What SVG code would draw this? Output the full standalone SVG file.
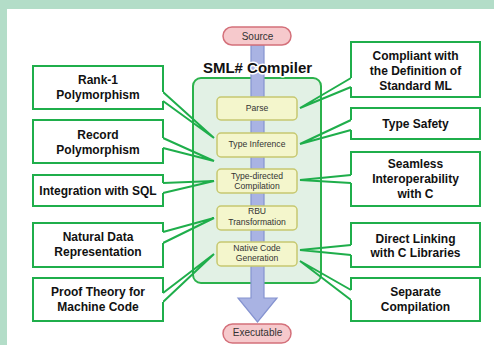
<svg xmlns="http://www.w3.org/2000/svg" width="494" height="345" viewBox="0 0 494 345">
<style>
.bg{fill:#b3ddc8}
.callbox{fill:#fff;stroke:none}
.callout{fill:none;stroke:#1fae4b;stroke-width:2;stroke-linejoin:miter}
.ct{font-family:"Liberation Sans",Arial,sans-serif;font-weight:bold;font-size:12px;fill:#111;text-anchor:middle}
.stage{fill:#f4f6cc;stroke:#c6c870;stroke-width:1.5}
.st{font-family:"Liberation Sans",Arial,sans-serif;font-size:8.6px;fill:#333;text-anchor:middle}
.pill{fill:#f6c9cc;stroke:#d4707a;stroke-width:1.5}
.pt{font-family:"Liberation Sans",Arial,sans-serif;font-size:10px;fill:#333;text-anchor:middle}
.pipe{fill:#a9b3e3;stroke:#8593d0;stroke-width:1.2}
</style>
<rect x="0" y="0" width="494" height="345" class="bg"/>
<rect x="7" y="9" width="487" height="336" fill="#fff"/>

<g id="compiler">
<rect x="193" y="78" width="128" height="205" rx="8" fill="#e2f1e5" stroke="#2bb24c" stroke-width="2"/>
</g>

<g id="flow">
<path class="pipe" d="M251,45 V298 H238 L257.5,322 L277,298 H264 V45 Z"/>
</g>

<text x="257.5" y="73" font-family="'Liberation Sans',Arial,sans-serif" font-weight="bold" font-size="15px" fill="#111" text-anchor="middle" stroke="#fff" stroke-width="3" paint-order="stroke" stroke-linejoin="round">SML# Compiler</text>

<g id="source">
<rect class="pill" x="223" y="27" width="68" height="18" rx="9"/>
<text class="pt" x="257.5" y="39.6">Source</text>
</g>
<g id="executable">
<rect class="pill" x="223" y="324" width="68" height="19" rx="9.5"/>
<text class="pt" x="257.5" y="336.3">Executable</text>
</g>

<g id="parse">
<rect class="stage" x="217" y="97" width="80" height="23" rx="4"/>
<text class="st" x="257" y="111.3">Parse</text>
</g>
<g id="type-inference">
<rect class="stage" x="217" y="133" width="80" height="24" rx="4"/>
<text class="st" x="257" y="147.3">Type Inference</text>
</g>
<g id="type-directed">
<rect class="stage" x="217" y="169" width="80" height="24" rx="4"/>
<text class="st" x="257" y="178.7">Type-directed</text>
<text class="st" x="257" y="189">Compilation</text>
</g>
<g id="rbu">
<rect class="stage" x="217" y="206" width="80" height="24" rx="4"/>
<text class="st" x="257" y="213.5">RBU</text>
<text class="st" x="257" y="224.5">Transformation</text>
</g>
<g id="native">
<rect class="stage" x="217" y="242" width="80" height="24" rx="4"/>
<text class="st" x="257" y="251.3">Native Code</text>
<text class="st" x="257" y="261.3">Generation</text>
</g>

<g id="connectors">
<path class="callout" d="M163,92 L214,138 L163,101"/>
<path class="callout" d="M163,138 L214,161 L163,148"/>
<path class="callout" d="M163,183 L214,181 L163,193"/>
<path class="callout" d="M163,232 L214,218 L163,243"/>
<path class="callout" d="M163,293 L214,254 L163,302"/>
<path class="callout" d="M351,78 L300,108 L351,87"/>
<path class="callout" d="M351,120 L300,144 L351,130"/>
<path class="callout" d="M351,175 L300,180 L351,183"/>
<path class="callout" d="M351,245 L300,250 L351,255"/>
<path class="callout" d="M351,290 L300,261 L351,300"/>
</g>

<g id="rank1">
<rect class="callbox" x="33" y="66" width="130" height="43"/>
<path class="callout" d="M163,92 V66 H33 V109 H163 V101"/>
<text class="ct" x="98" y="83.5">Rank-1</text>
<text class="ct" x="98" y="98.5">Polymorphism</text>
</g>
<g id="record">
<rect class="callbox" x="33" y="120" width="130" height="43"/>
<path class="callout" d="M163,138 V120 H33 V163 H163 V148"/>
<text class="ct" x="98" y="138.5">Record</text>
<text class="ct" x="98" y="153.5">Polymorphism</text>
</g>
<g id="sql">
<rect class="callbox" x="33" y="175" width="130" height="31"/>
<path class="callout" d="M163,183 V175 H33 V206 H163 V193"/>
<text class="ct" x="98" y="194.5">Integration with SQL</text>
</g>
<g id="natural">
<rect class="callbox" x="33" y="223" width="130" height="44"/>
<path class="callout" d="M163,232 V223 H33 V267 H163 V243"/>
<text class="ct" x="98" y="241">Natural Data</text>
<text class="ct" x="98" y="256">Representation</text>
</g>
<g id="proof">
<rect class="callbox" x="33" y="278" width="130" height="43"/>
<path class="callout" d="M163,293 V278 H33 V321 H163 V302"/>
<text class="ct" x="98" y="296">Proof Theory for</text>
<text class="ct" x="98" y="311">Machine Code</text>
</g>

<g id="compliant">
<rect class="callbox" x="351" y="42" width="129" height="55"/>
<path class="callout" d="M351,78 V42 H480 V97 H351 V87"/>
<text class="ct" x="415.5" y="59.5">Compliant with</text>
<text class="ct" x="415.5" y="74.5">the Definition of</text>
<text class="ct" x="415.5" y="89.5">Standard ML</text>
</g>
<g id="typesafety">
<rect class="callbox" x="351" y="108" width="129" height="31"/>
<path class="callout" d="M351,120 V108 H480 V139 H351 V130"/>
<text class="ct" x="415.5" y="128">Type Safety</text>
</g>
<g id="seamless">
<rect class="callbox" x="351" y="152" width="129" height="54"/>
<path class="callout" d="M351,175 V152 H480 V206 H351 V183"/>
<text class="ct" x="415.5" y="168">Seamless</text>
<text class="ct" x="415.5" y="183">Interoperability</text>
<text class="ct" x="415.5" y="198">with C</text>
</g>
<g id="direct">
<rect class="callbox" x="351" y="223" width="129" height="44"/>
<path class="callout" d="M351,245 V223 H480 V267 H351 V255"/>
<text class="ct" x="415.5" y="243">Direct Linking</text>
<text class="ct" x="415.5" y="257">with C Libraries</text>
</g>
<g id="separate">
<rect class="callbox" x="351" y="278" width="129" height="43"/>
<path class="callout" d="M351,290 V278 H480 V321 H351 V300"/>
<text class="ct" x="415.5" y="295.5">Separate</text>
<text class="ct" x="415.5" y="310.5">Compilation</text>
</g>
</svg>
